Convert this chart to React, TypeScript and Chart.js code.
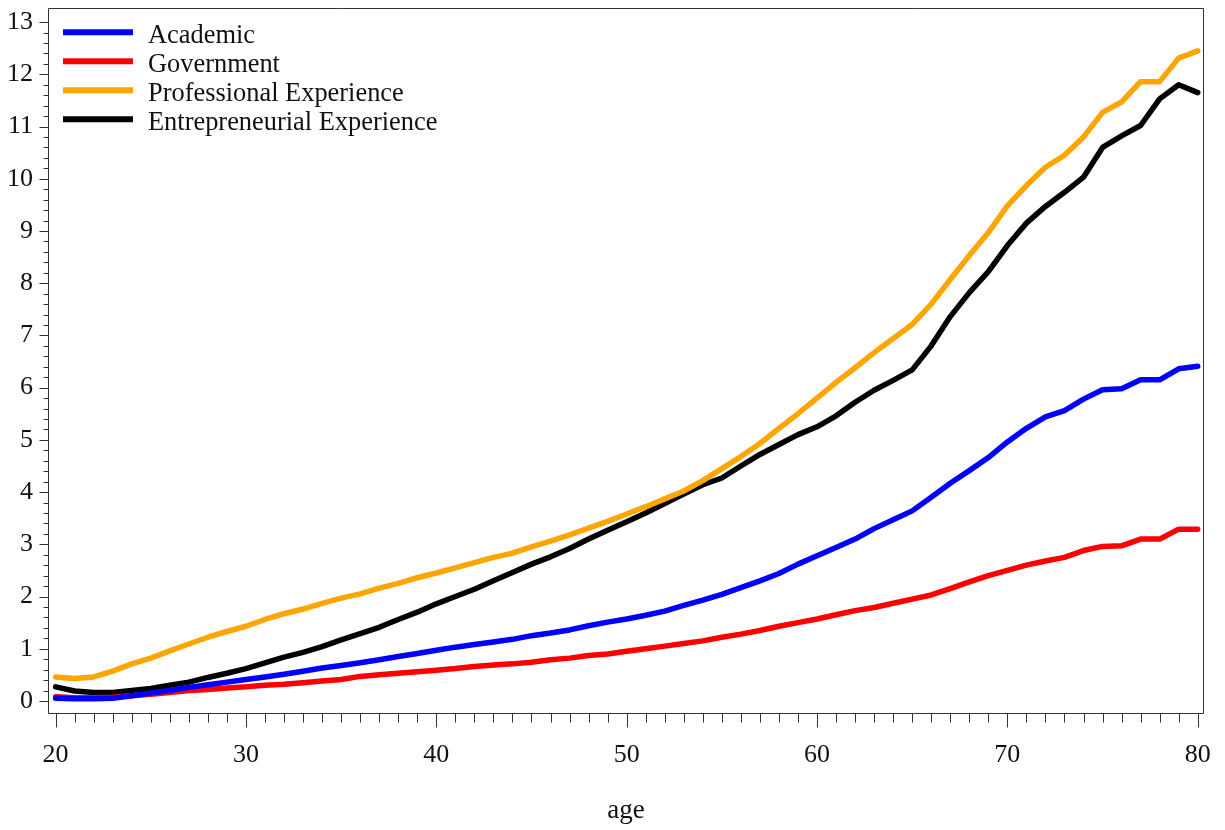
import React, { useEffect, useRef } from "react";
import { Chart, registerables } from "chart.js";

Chart.register(...registerables);

const ages = [
  20, 21, 22, 23, 24, 25, 26, 27, 28, 29, 30, 31, 32, 33, 34, 35, 36, 37, 38, 39, 40,
  41, 42, 43, 44, 45, 46, 47, 48, 49, 50, 51, 52, 53, 54, 55, 56, 57, 58, 59, 60,
  61, 62, 63, 64, 65, 66, 67, 68, 69, 70, 71, 72, 73, 74, 75, 76, 77, 78, 79, 80,
];

const academic = [
  0.05, 0.04, 0.04, 0.05, 0.1, 0.15, 0.2, 0.26, 0.31, 0.36, 0.41, 0.46, 0.51, 0.57, 0.63, 0.68, 0.73, 0.79, 0.85, 0.91, 0.97,
  1.03, 1.08, 1.13, 1.18, 1.25, 1.3, 1.36, 1.44, 1.51, 1.57, 1.64, 1.72, 1.83, 1.93, 2.04, 2.17, 2.3, 2.44, 2.62, 2.78,
  2.94, 3.1, 3.3, 3.47, 3.64, 3.9, 4.17, 4.41, 4.66, 4.96, 5.22, 5.44, 5.56, 5.78, 5.96, 5.98, 6.15, 6.15, 6.36, 6.41,
];

const government = [
  0.08, 0.06, 0.06, 0.07, 0.1, 0.13, 0.16, 0.2, 0.22, 0.25, 0.27, 0.3, 0.32, 0.35, 0.38, 0.41, 0.47, 0.5, 0.53, 0.56, 0.59,
  0.62, 0.66, 0.69, 0.71, 0.74, 0.79, 0.82, 0.87, 0.9, 0.95, 1.0, 1.05, 1.1, 1.15, 1.22, 1.28, 1.35, 1.43, 1.5, 1.57,
  1.65, 1.73, 1.79, 1.87, 1.95, 2.03, 2.15, 2.28, 2.4, 2.5, 2.6, 2.68, 2.75, 2.88, 2.96, 2.97, 3.1, 3.1, 3.29, 3.29,
];

const professional = [
  0.46, 0.43, 0.46, 0.57, 0.71, 0.82, 0.96, 1.09, 1.22, 1.33, 1.43, 1.56, 1.67, 1.76, 1.87, 1.97, 2.05, 2.16, 2.25, 2.36, 2.45,
  2.55, 2.65, 2.75, 2.83, 2.95, 3.06, 3.18, 3.31, 3.44, 3.58, 3.72, 3.87, 4.02, 4.22, 4.45, 4.68, 4.93, 5.22, 5.5, 5.8,
  6.1, 6.38, 6.67, 6.94, 7.21, 7.6, 8.07, 8.53, 8.97, 9.48, 9.87, 10.22, 10.45, 10.8, 11.27, 11.47, 11.86, 11.86, 12.31, 12.45,
];

const entrepreneurial = [
  0.27, 0.19, 0.16, 0.16, 0.2, 0.24, 0.3, 0.36, 0.45, 0.53, 0.62, 0.73, 0.84, 0.93, 1.04, 1.17, 1.29, 1.41, 1.56, 1.7, 1.86,
  2.0, 2.14, 2.3, 2.46, 2.62, 2.76, 2.92, 3.1, 3.27, 3.43, 3.6, 3.78, 3.96, 4.14, 4.27, 4.5, 4.72, 4.91, 5.1, 5.25,
  5.46, 5.72, 5.95, 6.14, 6.34, 6.8, 7.36, 7.82, 8.22, 8.72, 9.15, 9.47, 9.74, 10.03, 10.6, 10.82, 11.02, 11.53, 11.8, 11.65,
];

const seriesLabels = ["Academic", "Government", "Professional Experience", "Entrepreneurial Experience"];
const seriesColors = ["#0000FF", "#FF0000", "#FFA500", "#000000"];
const seriesValues = [academic, government, professional, entrepreneurial];

const xTickValues = [20, 30, 40, 50, 60, 70, 80];
const yTickValues = [0, 1, 2, 3, 4, 5, 6, 7, 8, 9, 10, 11, 12, 13];
const xTitle = "age";

const FONT = '"Liberation Serif", "Times New Roman", serif';

const boxAndTicks = {
  id: "boxAndTicks",
  afterDraw(chart: any) {
    const { ctx, chartArea: a, scales } = chart;
    const x = scales.x;
    const y = scales.y;
    ctx.save();
    ctx.strokeStyle = "#333";
    ctx.lineWidth = 1;
    const L = Math.round(a.left) + 0.5;
    const T = Math.round(a.top) + 0.5;
    const R = Math.round(a.right) - 0.5;
    const B = Math.round(a.bottom) - 0.5;
    ctx.beginPath();
    ctx.rect(L, T, R - L, B - T);
    ctx.stroke();
    ctx.beginPath();
    const xMin = xTickValues[0];
    const xMax = xTickValues[xTickValues.length - 1];
    for (let v = xMin; v <= xMax; v += 1) {
      const px = Math.round(x.getPixelForValue(v)) + 0.5;
      const len = xTickValues.includes(v) ? 14 : 9;
      ctx.moveTo(px, B);
      ctx.lineTo(px, B + len);
    }
    const yMax = yTickValues[yTickValues.length - 1];
    for (let i = 0; i <= yMax * 5; i += 1) {
      const v = i / 5;
      const py = Math.round(y.getPixelForValue(v)) + 0.5;
      const len = i % 5 === 0 ? 9 : 5;
      ctx.moveTo(L - len, py);
      ctx.lineTo(L, py);
    }
    ctx.stroke();
    ctx.restore();
  },
};

const insideLegend = {
  id: "insideLegend",
  afterDatasetsDraw(chart: any) {
    const { ctx } = chart;
    ctx.save();
    chart.data.datasets.forEach((ds: any, i: number) => {
      const cy = 32.3 + i * 29;
      ctx.strokeStyle = ds.borderColor;
      ctx.lineWidth = 6;
      ctx.lineCap = "butt";
      ctx.beginPath();
      ctx.moveTo(63, cy);
      ctx.lineTo(133, cy);
      ctx.stroke();
      ctx.fillStyle = "#111";
      ctx.font = `26.4px ${FONT}`;
      ctx.textBaseline = "alphabetic";
      ctx.textAlign = "left";
      ctx.fillText(ds.label, 148, cy + 11);
    });
    ctx.restore();
  },
};

export default function App() {
  const ref = useRef<HTMLCanvasElement | null>(null);

  useEffect(() => {
    if (!ref.current) return;
    const chart = new Chart(ref.current, {
      type: "line",
      data: {
        datasets: seriesLabels.map((label, i) => ({
          label,
          data: ages.map((a, j) => ({ x: a, y: seriesValues[i][j] })),
          borderColor: seriesColors[i],
          backgroundColor: seriesColors[i],
          borderWidth: 5.5,
          pointRadius: 0,
          tension: 0,
          borderJoinStyle: "round" as const,
          borderCapStyle: "round" as const,
        })),
      },
      options: {
        responsive: false,
        animation: false,
        layout: { padding: { top: 8, right: 21, left: 0, bottom: 0 } },
        plugins: {
          legend: { display: false },
          tooltip: { enabled: false },
        },
        scales: {
          x: {
            type: "linear",
            min: 19.6,
            max: 80.33,
            afterBuildTicks: (s: any) => {
              s.ticks = xTickValues.map((v) => ({ value: v }));
            },
            afterFit: (s: any) => {
              s.height = 116;
              s.paddingLeft = 0;
              s.paddingRight = 0;
            },
            border: { display: false },
            grid: {
              display: true,
              drawOnChartArea: false,
              drawTicks: true,
              tickLength: 14,
              color: "rgba(0,0,0,0)",
              tickColor: "rgba(0,0,0,0)",
            },
            ticks: {
              color: "#111",
              font: { family: FONT, size: 26 },
              padding: 12,
              maxRotation: 0,
              autoSkip: false,
            },
            title: {
              display: true,
              text: xTitle,
              color: "#111",
              font: { family: FONT, size: 27 },
              padding: { top: 0, bottom: 3 },
            },
          },
          y: {
            type: "linear",
            min: -0.25,
            max: 13.27,
            afterBuildTicks: (s: any) => {
              s.ticks = yTickValues.map((v) => ({ value: v }));
            },
            afterFit: (s: any) => {
              s.width = 48;
              s.paddingTop = 0;
              s.paddingBottom = 0;
            },
            border: { display: false },
            grid: {
              display: true,
              drawOnChartArea: false,
              drawTicks: true,
              tickLength: 9,
              color: "rgba(0,0,0,0)",
              tickColor: "rgba(0,0,0,0)",
            },
            ticks: {
              color: "#111",
              font: { family: FONT, size: 26 },
              padding: 6,
              autoSkip: false,
            },
          },
        },
      },
      plugins: [boxAndTicks, insideLegend],
    });
    return () => chart.destroy();
  }, []);

  return (
    <div style={{ position: "absolute", left: 0, top: 0, width: 1225, height: 830, background: "#fff" }}>
      <canvas ref={ref} width={1225} height={830} style={{ display: "block" }} />
    </div>
  );
}
